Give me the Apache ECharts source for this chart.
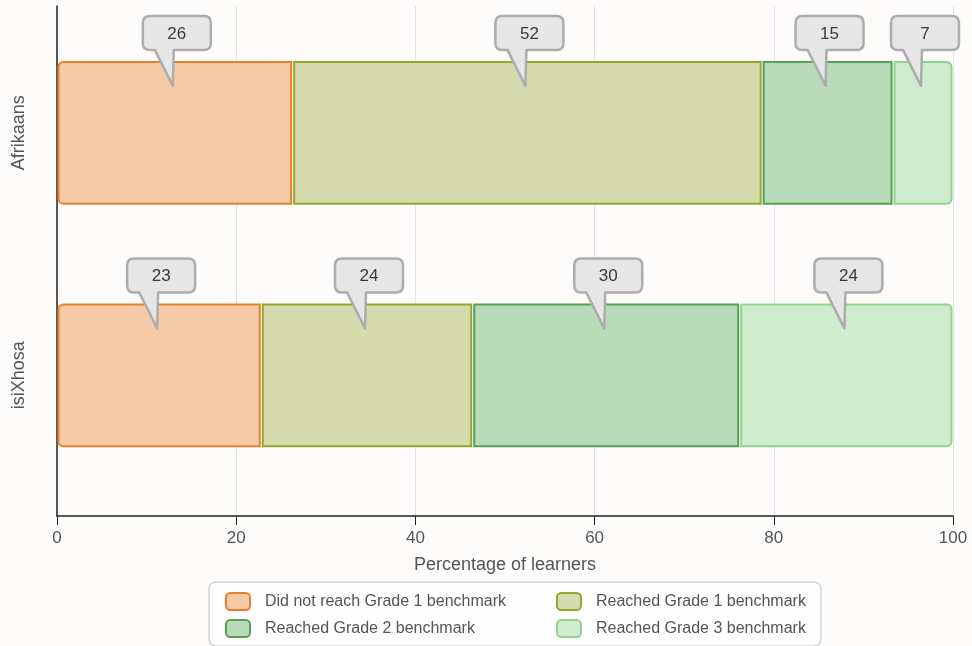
<!DOCTYPE html>
<html>
<head>
<meta charset="utf-8">
<script src="https://cdn.jsdelivr.net/npm/echarts@6/dist/echarts.min.js"></script>
<style>html,body{margin:0;padding:0;background:#fdfcfb}#c{width:972px;height:646px}</style>
</head>
<body>
<div id="c"></div>
<script>
const categories = ['Afrikaans', 'isiXhosa'];
const seriesNames = ['Did not reach Grade 1 benchmark', 'Reached Grade 1 benchmark', 'Reached Grade 2 benchmark', 'Reached Grade 3 benchmark'];
const notReachedG1 = [26.3, 22.8];
const reachedG1 = [52.4, 23.6];
const reachedG2 = [14.6, 29.8];
const reachedG3 = [6.7, 23.8];
const xTicks = [0, 20, 40, 60, 80, 100];

const values = [notReachedG1, reachedG1, reachedG2, reachedG3];
const fills = ['#f5caa7', '#d5dbae', '#badbba', '#cfecce'];
const borders = ['#e8802a', '#93a82c', '#55a055', '#8fd38d'];
const FONT = '"Liberation Sans", Arial, sans-serif';

// cumulative start/end for each series/category
const segs = values.map(() => []);
const labelData = [];
categories.forEach((c, ci) => {
  let acc = 0;
  values.forEach((arr, si) => {
    const s = acc, e = acc + arr[ci];
    segs[si].push([s, e, ci]);
    labelData.push([s, e, ci, Math.round(arr[ci])]);
    acc = e;
  });
});

const BAR_FRAC = 0.585;

function barRender(si) {
  return function (params, api) {
    const s = api.coord([api.value(0), api.value(2)]);
    const e = api.coord([api.value(1), api.value(2)]);
    const h = api.size([0, BAR_FRAC])[1];
    let r = 0;
    if (si === 0) r = [5, 0, 0, 5];
    else if (si === values.length - 1) r = [0, 5, 5, 0];
    return {
      type: 'rect',
      shape: { x: s[0] + 1.5, y: s[1] - h / 2, width: e[0] - s[0] - 3, height: h, r: r },
      style: { fill: fills[si], stroke: borders[si], lineWidth: 2 }
    };
  };
}

function bubbleRender(params, api) {
  const mid = (api.value(0) + api.value(1)) / 2;
  const p = api.coord([mid, api.value(2)]);
  const h = api.size([0, BAR_FRAC])[1];
  const barTop = p[1] - h / 2;
  const tipX = p[0] - 2, tipY = barTop + 24;
  const cx = tipX + 4;
  const w = 68, bh = 34, r = 7;
  const bx = cx - w / 2, by = barTop - 46;
  const tl = cx - 22, tr = cx - 3;
  const path = 'M' + (bx + r) + ',' + by +
    'L' + (bx + w - r) + ',' + by +
    'Q' + (bx + w) + ',' + by + ' ' + (bx + w) + ',' + (by + r) +
    'L' + (bx + w) + ',' + (by + bh - r) +
    'Q' + (bx + w) + ',' + (by + bh) + ' ' + (bx + w - r) + ',' + (by + bh) +
    'L' + tr + ',' + (by + bh) +
    'L' + tipX + ',' + tipY +
    'L' + tl + ',' + (by + bh) +
    'L' + (bx + r) + ',' + (by + bh) +
    'Q' + bx + ',' + (by + bh) + ' ' + bx + ',' + (by + bh - r) +
    'L' + bx + ',' + (by + r) +
    'Q' + bx + ',' + by + ' ' + (bx + r) + ',' + by + 'Z';
  return {
    type: 'group',
    children: [
      { type: 'path', shape: { pathData: path }, style: { fill: '#e6e6e6', stroke: '#adadad', lineWidth: 2.5, lineJoin: 'round' } },
      { type: 'text', style: { text: String(api.value(3)), x: cx, y: by + bh / 2 + 1, align: 'center', verticalAlign: 'middle', fill: '#3a3a3a', font: '17px ' + FONT } }
    ]
  };
}

const chart = echarts.init(document.getElementById('c'), null, { renderer: 'canvas' });
const series = values.map((arr, si) => ({
  name: seriesNames[si],
  type: 'custom',
  renderItem: barRender(si),
  encode: { x: [0, 1], y: 2 },
  data: segs[si],
  itemStyle: { color: fills[si], borderColor: borders[si], borderWidth: 2 },
  z: 2
}));
series.push({
  name: 'labels',
  type: 'custom',
  renderItem: bubbleRender,
  encode: { x: [0, 1], y: 2 },
  data: labelData,
  z: 10,
  silent: true
});

const richText = { fontSize: 16, color: '#555', fontFamily: FONT, lineHeight: 17, padding: [0, 0, 0, 10] };
chart.setOption({
  backgroundColor: '#fdfcfb',
  animation: false,
  textStyle: { fontFamily: FONT },
  grid: { left: 57, right: 19, top: 6, bottom: 130 },
  xAxis: {
    type: 'value', min: 0, max: 100, interval: 20,
    name: 'Percentage of learners', nameLocation: 'middle', nameGap: 40,
    nameTextStyle: { fontSize: 18, color: '#555', fontFamily: FONT },
    axisLine: { show: true, onZero: false, lineStyle: { color: '#222', width: 1.5 } },
    axisTick: { show: true, length: 9, lineStyle: { color: '#222' } },
    axisLabel: { fontSize: 17, color: '#555', margin: 14, fontFamily: FONT,
      customValues: xTicks },
    splitLine: { show: true, lineStyle: { color: '#e3e3e3', width: 1 } }
  },
  yAxis: {
    type: 'value', inverse: true, min: -0.523, max: 1.58,
    axisLine: { show: true, onZero: false, lineStyle: { color: '#222', width: 1.5 } },
    axisTick: { show: false },
    splitLine: { show: false },
    axisLabel: {
      customValues: categories.map((c, i) => i),
      formatter: v => categories[Math.round(v)] || '',
      rotate: 90, fontSize: 18, color: '#555', margin: 29, fontFamily: FONT
    }
  },
  legend: {
    left: 209, top: 582, width: 590,
    orient: 'horizontal',
    padding: [10, 15, 8, 16],
    itemGap: 8,
    itemWidth: 24, itemHeight: 17,
    borderColor: '#d4d4d4', borderWidth: 1.5, borderRadius: 7,
    backgroundColor: '#fefefe',
    formatter: name => (seriesNames.indexOf(name) % 2 === 0 ? '{a|' : '{b|') + name + '}',
    textStyle: {
      fontSize: 16, color: '#555', fontFamily: FONT,
      rich: {
        a: Object.assign({ width: 283 }, richText),
        b: Object.assign({ width: 209 }, richText)
      }
    },
    data: seriesNames
  },
  series: series
});
</script>
</body>
</html>
